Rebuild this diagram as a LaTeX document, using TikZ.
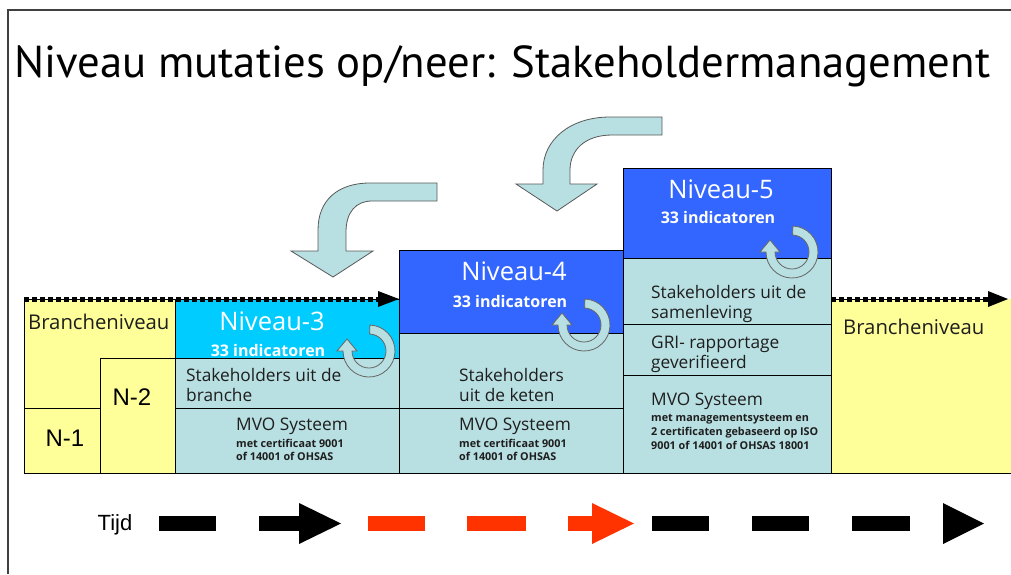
\documentclass[tikz,border=0pt]{standalone}
\usepackage{fontspec}
\usepackage{graphicx}
\setmainfont{Open Sans}
\newfontfamily\arialf{Liberation Sans}
\newfontfamily\titlef{PT Sans}
\definecolor{yel}{HTML}{FFFF99}
\definecolor{cyn}{HTML}{00CCFF}
\definecolor{blu}{HTML}{3366FF}
\definecolor{tea}{HTML}{B8DFE1}
\definecolor{redd}{HTML}{FF3300}
\definecolor{txt}{HTML}{1E1E1E}
\tikzset{
  cell/.style={draw=black, line width=0.8pt},
  bodytxt/.style={anchor=base west, inner sep=0, text=txt, font=\fontsize{17.3}{20}\selectfont},
  smalltxt/.style={anchor=base west, inner sep=0, text=txt, font=\fontsize{10.8}{12}\selectfont\bfseries},
  bigtxt/.style={anchor=base, inner sep=0, text=white, font=\fontsize{25.5}{28}\selectfont},
  indtxt/.style={anchor=base, inner sep=0, text=white, font=\fontsize{16}{18}\selectfont\bfseries},
  brntxt/.style={anchor=base west, inner sep=0, text=txt, font=\fontsize{20.3}{22}\selectfont},
  arltxt/.style={anchor=base, inner sep=0, text=black, font=\arialf\fontsize{24}{28}\selectfont},
  bendarrow/.style={fill=tea, draw=black!65, line width=0.8pt},
  ringst/.style={fill=tea, draw=black!60, line width=0.8pt},
  ringarrow/.pic={\filldraw[ringst] (-88:26) arc (-88:180:26) -- (180:32) -- (-22,-12) -- (180:12) -- (180:17) arc (180:-88:17) -- cycle;},
  dotline/.style={line width=5pt, dash pattern=on 4.5pt off 3.5pt},
}
\begin{document}
\begin{tikzpicture}[x=1pt,y=-1pt]
\useasboundingbox (0,0) rectangle (1011,574);
% frame
\draw[line width=1.2pt, black!75] (8,574) -- (8,10) -- (1011,10);
% title
\node[anchor=base west, inner sep=0] (title) at (14,77) {\resizebox{976pt}{!}{\titlef Niveau mutaties op/neer: Stakeholdermanagement}};

% left yellow region
\filldraw[fill=yel, cell] (24,299) rectangle (175,473);
\filldraw[fill=yel, cell] (24,408) rectangle (100,473);
\filldraw[fill=yel, cell] (100,358) rectangle (175,473);
% level 3
\filldraw[fill=cyn, cell] (175,299) rectangle (399,358);
\filldraw[fill=tea, cell] (175,358) rectangle (399,408);
\filldraw[fill=tea, cell] (175,408) rectangle (399,473);
% level 4
\filldraw[fill=blu, cell] (399,250) rectangle (623,333);
\filldraw[fill=tea, cell] (399,333) rectangle (623,408);
\filldraw[fill=tea, cell] (399,408) rectangle (623,473);
% level 5
\filldraw[fill=blu, cell] (623,168) rectangle (831,258);
\filldraw[fill=tea, cell] (623,258) rectangle (831,324);
\filldraw[fill=tea, cell] (623,324) rectangle (831,375);
\filldraw[fill=tea, cell] (623,375) rectangle (831,473);
% right yellow
\fill[yel] (831,299) rectangle (1011,473);
\draw[cell] (831,299) -- (831,473) -- (1011,473);

% dotted arrows
\coordinate (d1a) at (24,299); \coordinate (d1b) at (380,299); \coordinate (d1t) at (399,299);
\draw[line width=1pt] (d1a) -- (d1b);
\draw[dotline] (d1a) -- (d1b);
\fill (378,291) -- (d1t) -- (378,307) -- cycle;
\coordinate (d2a) at (831,299); \coordinate (d2b) at (990,299); \coordinate (d2t) at (1008,299);
\draw[line width=1pt] (d2a) -- (d2b);
\draw[dotline] (d2a) -- (d2b);
\fill (988,291) -- (d2t) -- (988,307) -- cycle;

% bent arrows
\filldraw[bendarrow] (437,183) -- (370,183) .. controls (338,183) and (318,200) .. (318,230) -- (318,251) -- (291,251) -- (333,277) -- (373,251) -- (346,251) -- (346,232) .. controls (346,212) and (356,201) .. (372,201) -- (437,201) -- cycle;
\filldraw[bendarrow] (662,117) -- (610,117) .. controls (570,117) and (543,140) .. (543,170) -- (543,184) -- (516,184) -- (557,211) -- (597,184) -- (570,184) -- (570,170) .. controls (570,150) and (585,135) .. (612,135) -- (662,135) -- cycle;

% ring arrows
\pic at (369,351) {ringarrow};
\pic at (584,325) {ringarrow};
\pic at (792,252) {ringarrow};

% texts left
\node[brntxt] (brl) at (28,329) {Brancheniveau};
\node[arltxt] (n2) at (132,405) {N-2};
\node[arltxt] (n1) at (65,446) {N-1};
% level 3 texts
\node[bigtxt] (t3) at (272,330) {Niveau-3};
\node[indtxt] (i3) at (268,356) {33 indicatoren};
\node[bodytxt] (s3a) at (186,381) {Stakeholders uit de};
\node[bodytxt] (s3b) at (186,401) {branche};
\node[bodytxt] (m3) at (236,430) {MVO Systeem};
\node[smalltxt] (m3a) at (236,447) {met certificaat 9001};
\node[smalltxt] (m3b) at (236,460) {of 14001 of OHSAS};
% level 4 texts
\node[bigtxt] (t4) at (514,280) {Niveau-4};
\node[indtxt] (i4) at (510,307) {33 indicatoren};
\node[bodytxt] (s4a) at (459,381) {Stakeholders};
\node[bodytxt] (s4b) at (459,401) {uit de keten};
\node[bodytxt] (m4) at (459,430) {MVO Systeem};
\node[smalltxt] (m4a) at (459,447) {met certificaat 9001};
\node[smalltxt] (m4b) at (459,460) {of 14001 of OHSAS};
% level 5 texts
\node[bigtxt] (t5) at (721,198) {Niveau-5};
\node[indtxt] (i5) at (718,223) {33 indicatoren};
\node[bodytxt] (s5a) at (651,298) {Stakeholders uit de};
\node[bodytxt] (s5b) at (651,318) {samenleving};
\node[bodytxt] (g5a) at (651,348) {GRI- rapportage};
\node[bodytxt] (g5b) at (651,368) {geverifieerd};
\node[bodytxt] (m5) at (651,405) {MVO Systeem};
\node[smalltxt] (m5a) at (651,421) {met managementsysteem en};
\node[smalltxt] (m5b) at (651,435) {2 certificaten gebaseerd op ISO};
\node[smalltxt] (m5c) at (651,449) {9001 of 14001 of OHSAS 18001};
% right
\node[brntxt] (brr) at (843,334) {Brancheniveau};

% time line
\node[anchor=base, inner sep=0, font=\arialf\fontsize{22}{26}\selectfont] (tijd) at (115,530) {Tijd};
\fill (159,516) rectangle (216,531);
\fill (259,516) rectangle (299,531);
\fill (299,503) -- (341,523.5) -- (299,544) -- cycle;
\fill[redd] (368,516) rectangle (425,531);
\fill[redd] (467,516) rectangle (526,531);
\fill[redd] (568,516) rectangle (592,531);
\fill[redd] (592,503) -- (634,523.5) -- (592,544) -- cycle;
\fill (652,516) rectangle (709,531);
\fill (752,516) rectangle (809,531);
\fill (852,516) rectangle (910,531);
\fill (943,503) -- (984,523.5) -- (943,544) -- cycle;
\end{tikzpicture}
\end{document}
